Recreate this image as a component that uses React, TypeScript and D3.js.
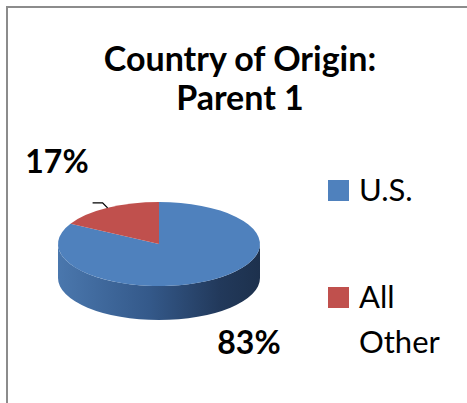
import * as d3 from "d3";

const categories = ["U.S.", "All Other"];
const shares = [83, 17];
const labelText = ["83%", "17%"];
const colors = ["#4f81bd", "#c0504d"];
const titleLines = ["Country of Origin:", "Parent 1"];

const W = 467;
const H = 403;

const cx = 159;
const cy = 244;
const rx = 101;
const ry = 42;
const depth = 34;

// point on the top ellipse for a pie angle (0 = 12 o'clock, clockwise)
const onTop = (a: number): [number, number] => [cx + rx * Math.sin(a), cy - ry * Math.cos(a)];

export default function App() {
  const pie = d3.pie<number>().sort(null).value((d) => d);
  const arcs = pie(shares);
  const arc = d3.arc<d3.PieArcDatum<number>>().innerRadius(0).outerRadius(rx);

  // side wall of the front half (all blue here)
  const side =
    `M${cx - rx},${cy} A${rx},${ry} 0 0 0 ${cx + rx},${cy} ` +
    `L${cx + rx},${cy + depth} A${rx},${ry} 0 0 1 ${cx - rx},${cy + depth} Z`;

  const other = arcs[1];
  const mid = (other.startAngle + other.endAngle) / 2;
  const edge = onTop(mid);
  const leader = d3.line()([
    [edge[0] - 15, edge[1] - 5],
    [edge[0] - 5, edge[1] - 5],
    edge,
  ]);

  const font = "Lato, 'Open Sans', sans-serif";

  return (
    <svg width={W} height={H} style={{ position: "absolute", left: 0, top: 0 }}>
      <defs>
        <linearGradient id="sideGrad" x1="0" x2="1" y1="0" y2="0">
          <stop offset="0" stopColor="#4a77ad" />
          <stop offset="0.45" stopColor="#34598a" />
          <stop offset="0.8" stopColor="#22395b" />
          <stop offset="1" stopColor="#1d314d" />
        </linearGradient>
      </defs>
      <rect x={7} y={7} width={W} height={H} fill="#fff" stroke="#8c8c8c" strokeWidth={2} />

      <g fontFamily={font} fontWeight="bold" fontSize={34} textAnchor="middle" fill="#000">
        {titleLines.map((t, i) => (
          <text key={t} x={240} y={71 + i * 39}>{t}</text>
        ))}
      </g>

      <path d={side} fill="url(#sideGrad)" />
      <g transform={`translate(${cx},${cy}) scale(1,${ry / rx})`}>
        {arcs.map((a, i) => (
          <path key={categories[i]} d={arc(a) || ""} fill={colors[i]} />
        ))}
      </g>

      <path d={leader || ""} fill="none" stroke="#000" strokeWidth={1.3} />

      <g fontFamily={font} fontWeight="bold" fontSize={32} textAnchor="middle" fill="#000">
        <text x={249} y={354}>{labelText[0]}</text>
        <text x={57} y={173}>{labelText[1]}</text>
      </g>

      <g fontFamily={font} fontSize={31} fill="#000">
        <rect x={328} y={180} width={21} height={21} fill={colors[0]} />
        <text x={359} y={201}>U.S.</text>
        <rect x={328} y={287} width={21} height={21} fill={colors[1]} />
        <text x={359} y={308}>All</text>
        <text x={359} y={353}>Other</text>
      </g>
    </svg>
  );
}
